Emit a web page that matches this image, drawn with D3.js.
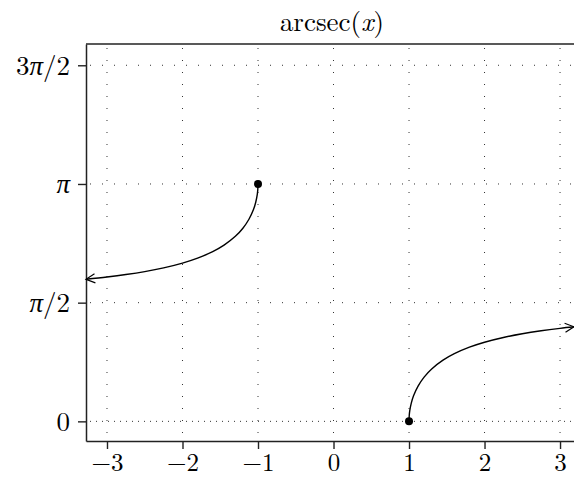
<!DOCTYPE html>
<html><head><meta charset="utf-8">
<script src="https://cdn.jsdelivr.net/npm/d3@7"></script>
<style>body{margin:0;background:#fff}svg{display:block}</style>
</head><body>
<script>
const xTicks = [-3, -2, -1, 0, 1, 2, 3];
const xTickLabels = ["−3", "−2", "−1", "0", "1", "2", "3"];
const yTicks = [0, Math.PI / 2, Math.PI, 3 * Math.PI / 2];
const yTickLabels = ["0", "π/2", "π", "3π/2"];
// arcsec(x)
const leftX = [-3.278, -3.0, -2.75, -2.5, -2.25, -2.0, -1.8, -1.6, -1.45, -1.3, -1.2, -1.12, -1.06, -1.03, -1.01, -1.003, -1.0];
const leftY = [1.8804, 1.9106, 1.9430, 1.9823, 2.0314, 2.0944, 2.1598, 2.2459, 2.3318, 2.4484, 2.5559, 2.6745, 2.8026, 2.8998, 3.0007, 3.0642, 3.1416];
const rightX = [1.0, 1.003, 1.01, 1.03, 1.06, 1.12, 1.2, 1.3, 1.45, 1.6, 1.8, 2.0, 2.25, 2.5, 2.75, 3.0, 3.185];
const rightY = [0, 0.0774, 0.1409, 0.2418, 0.3390, 0.4671, 0.5857, 0.6932, 0.8098, 0.8957, 0.9818, 1.0472, 1.1102, 1.1593, 1.1986, 1.2310, 1.2515];
const dotX = [-1, 1];
const dotY = [Math.PI, 0];
const title = "arcsec";

const W = 574, H = 479;
const L = 86, R = 574, T = 44, B = 441;
const x = d3.scaleLinear().domain([-3.278, 3.185]).range([L, R]);
const y = d3.scaleLinear().domain([-0.26, 4.994]).range([B, T]);

const svg = d3.select("body").append("svg").attr("width", W).attr("height", H);
const font = "'Latin Modern Roman','CMU Serif','Liberation Serif',serif";

svg.append("defs").append("marker")
  .attr("id", "arr").attr("viewBox", "-10 -6 12 12")
  .attr("refX", 0).attr("refY", 0)
  .attr("markerWidth", 12).attr("markerHeight", 12)
  .attr("markerUnits", "userSpaceOnUse")
  .attr("orient", "auto-start-reverse")
  .append("path").attr("d", "M-9,-4.5 L0,0 L-9,4.5")
  .attr("fill", "none").attr("stroke", "#000").attr("stroke-width", 1.2);

// grid
const g = svg.append("g");
g.selectAll("line.vx").data(xTicks).join("line")
  .attr("x1", d => x(d)).attr("x2", d => x(d)).attr("y1", T + 4).attr("y2", B)
  .attr("stroke", "#333").attr("stroke-width", 1).attr("stroke-dasharray", "1,11");
g.selectAll("line.hy").data(yTicks).join("line")
  .attr("x1", L + 4).attr("x2", R).attr("y1", d => y(d)).attr("y2", d => y(d))
  .attr("stroke", "#333").attr("stroke-width", 1)
  .attr("stroke-dasharray", (d, i) => i === 0 ? "1,5" : "1,11");

// axes
const xa = svg.append("g").attr("transform", `translate(0,${B})`)
  .call(d3.axisBottom(x).tickValues(xTicks).tickSize(8).tickSizeOuter(0).tickFormat((d, i) => xTickLabels[i]));
const ya = svg.append("g").attr("transform", `translate(${L},0)`)
  .call(d3.axisLeft(y).tickValues(yTicks).tickSize(8).tickSizeOuter(0).tickFormat((d, i) => yTickLabels[i]));
[xa, ya].forEach(a => {
  a.select(".domain").attr("stroke", "#222").attr("stroke-width", 1.5);
  a.selectAll(".tick line").attr("stroke", "#222").attr("stroke-width", 1.4);
  a.selectAll(".tick text").attr("font-family", font).attr("fill", "#000");
});
xa.selectAll(".tick text").attr("font-size", 25).attr("dy", null).attr("y", 30);
ya.selectAll(".tick text").attr("font-size", 27).attr("x", -16).attr("dy", "0.33em");
ya.selectAll(".tick text").each(function(d, i) {
  const s = yTickLabels[i];
  const t = d3.select(this).text(null);
  for (const ch of s) {
    t.append("tspan").text(ch).attr("font-style", ch === "π" ? "italic" : null);
  }
});

// top border
svg.append("line").attr("x1", L).attr("x2", R).attr("y1", T).attr("y2", T)
  .attr("stroke", "#222").attr("stroke-width", 1.5);

// curves
const line = d3.line().x(d => x(d[0])).y(d => y(d[1])).curve(d3.curveCatmullRom);
svg.append("path").datum(leftX.map((v, i) => [v, leftY[i]]))
  .attr("d", line).attr("fill", "none").attr("stroke", "#000").attr("stroke-width", 1.4)
  .attr("marker-start", "url(#arr)");
svg.append("path").datum(rightX.map((v, i) => [v, rightY[i]]))
  .attr("d", line).attr("fill", "none").attr("stroke", "#000").attr("stroke-width", 1.4)
  .attr("marker-end", "url(#arr)");

svg.selectAll("circle.pt").data(dotX).join("circle")
  .attr("cx", d => x(d)).attr("cy", (d, i) => y(dotY[i])).attr("r", 4).attr("fill", "#000");

// title
const tt = svg.append("text").attr("x", 332).attr("y", 31).attr("text-anchor", "middle")
  .attr("font-family", font).attr("font-size", 27).attr("fill", "#000");
tt.append("tspan").text(title + "(");
tt.append("tspan").text("x").attr("font-style", "italic");
tt.append("tspan").text(")");
</script>
</body></html>
